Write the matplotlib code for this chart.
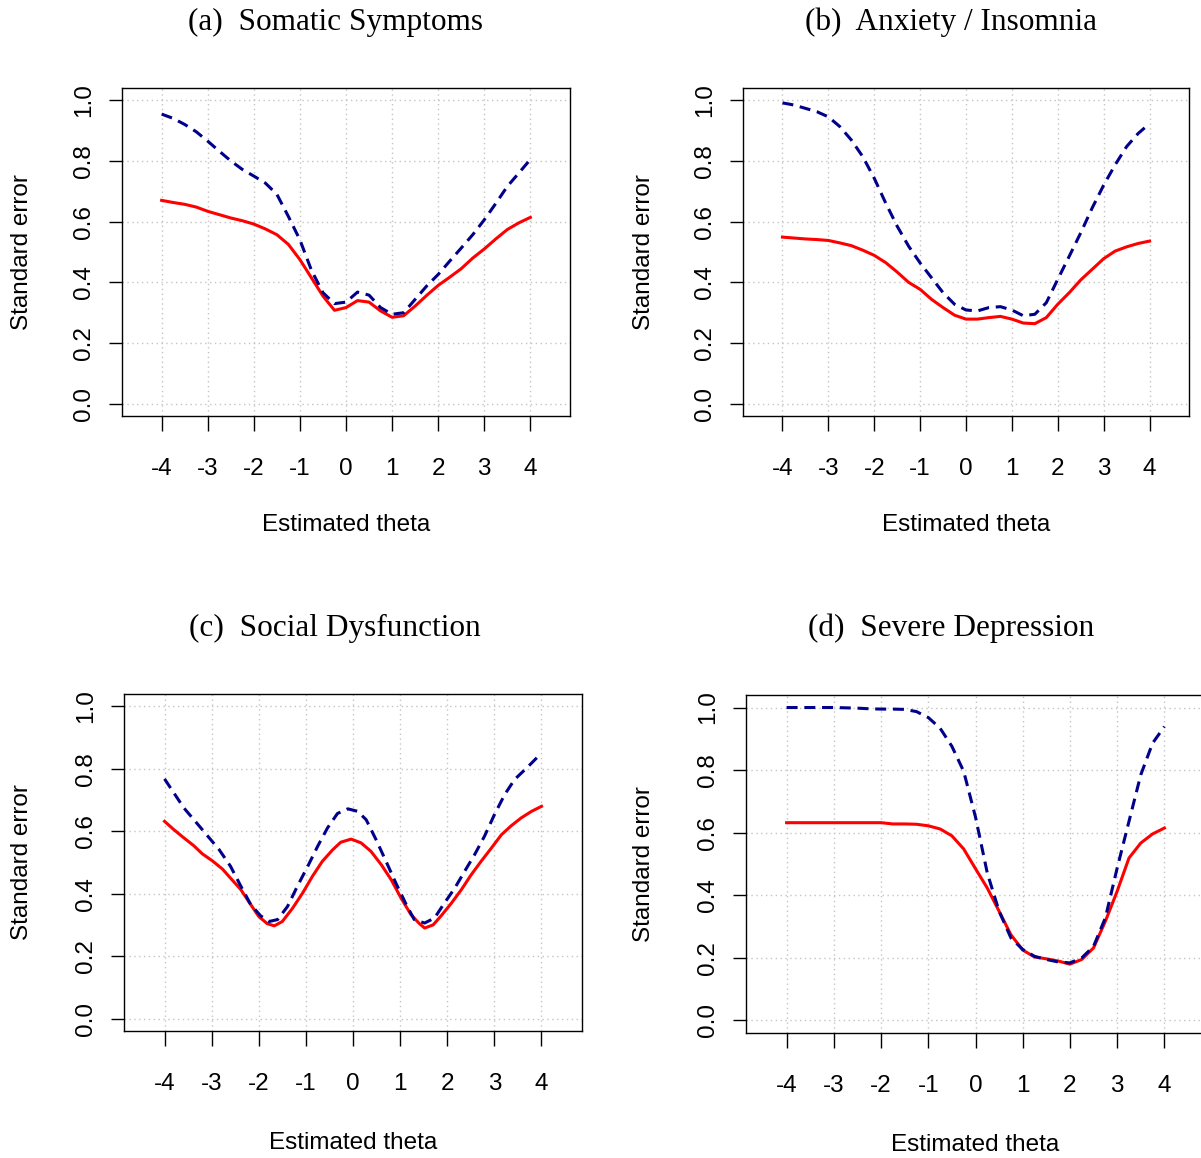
import numpy as np
import matplotlib
matplotlib.use("Agg")
import matplotlib.pyplot as plt

matplotlib.rcParams["font.family"] = "Liberation Sans"
matplotlib.rcParams["axes.unicode_minus"] = False

# ---- data ----
grid_q = np.arange(-4, 4.01, 0.25)

# (a) Somatic Symptoms
a_dash = [0.954, 0.94, 0.92, 0.896, 0.865, 0.832, 0.80, 0.772, 0.75, 0.727, 0.69,
          0.617, 0.54, 0.44, 0.366, 0.33, 0.335, 0.368, 0.358, 0.317, 0.295, 0.30,
          0.344, 0.388, 0.426, 0.47, 0.513, 0.557, 0.606, 0.66, 0.716, 0.76, 0.805]
a_solid = [0.67, 0.663, 0.657, 0.648, 0.634, 0.623, 0.612, 0.603, 0.592, 0.576, 0.557,
           0.525, 0.475, 0.415, 0.355, 0.308, 0.317, 0.34, 0.335, 0.306, 0.285, 0.29,
           0.322, 0.357, 0.39, 0.417, 0.445, 0.48, 0.51, 0.543, 0.574, 0.596, 0.614]

# (b) Anxiety / Insomnia
b_dash = [0.991, 0.984, 0.973, 0.962, 0.945, 0.913, 0.869, 0.814, 0.743, 0.661, 0.585,
          0.519, 0.464, 0.415, 0.366, 0.328, 0.309, 0.306, 0.317, 0.32, 0.309, 0.29,
          0.295, 0.333, 0.41, 0.486, 0.563, 0.645, 0.72, 0.787, 0.847, 0.89, 0.923]
b_solid = [0.549, 0.546, 0.543, 0.541, 0.538, 0.53, 0.521, 0.506, 0.489, 0.465, 0.434,
           0.40, 0.377, 0.344, 0.317, 0.292, 0.279, 0.279, 0.284, 0.288, 0.279, 0.266,
           0.264, 0.284, 0.328, 0.366, 0.408, 0.443, 0.478, 0.503, 0.517, 0.528, 0.536]

# (c) Social Dysfunction
c_dash_x = [-4, -3.59, -3.23, -2.84, -2.6, -2.38, -2.17, -1.96, -1.78, -1.6, -1.39, -1.18,
            -0.96, -0.75, -0.54, -0.33, -0.11, 0.1, 0.28, 0.49, 0.7, 0.91, 1.13, 1.3,
            1.52, 1.73, 1.94, 2.16, 2.37, 2.58, 2.79, 3.0, 3.22, 3.43, 3.72, 3.93, 4.0]
c_dash = [0.768, 0.675, 0.611, 0.541, 0.488, 0.424, 0.365, 0.329, 0.311, 0.317, 0.359,
          0.424, 0.488, 0.552, 0.611, 0.657, 0.672, 0.664, 0.637, 0.573, 0.504, 0.434,
          0.365, 0.317, 0.306, 0.322, 0.37, 0.418, 0.472, 0.525, 0.584, 0.653, 0.718,
          0.766, 0.808, 0.84, 0.851]
c_solid_x = [-4, -3.8, -3.59, -3.38, -3.2, -2.99, -2.77, -2.6, -2.38, -2.17, -2.0, -1.82,
             -1.67, -1.5, -1.28, -1.07, -0.86, -0.65, -0.43, -0.26, -0.04, 0.17, 0.38,
             0.6, 0.81, 1.02, 1.23, 1.41, 1.52, 1.7, 1.87, 2.09, 2.3, 2.51, 2.72, 2.94,
             3.15, 3.36, 3.57, 3.79, 4.0]
c_solid = [0.632, 0.605, 0.579, 0.554, 0.528, 0.506, 0.479, 0.45, 0.413, 0.365, 0.327,
           0.304, 0.297, 0.311, 0.354, 0.402, 0.456, 0.504, 0.541, 0.565, 0.575, 0.563,
           0.536, 0.493, 0.445, 0.386, 0.333, 0.304, 0.29, 0.3, 0.329, 0.37, 0.413,
           0.461, 0.504, 0.547, 0.589, 0.618, 0.643, 0.664, 0.68]

# (d) Severe Depression
d_dash = [1.0, 1.0, 1.0, 1.0, 1.0, 0.999, 0.998, 0.996, 0.995, 0.995, 0.994, 0.987,
          0.968, 0.934, 0.876, 0.796, 0.65, 0.471, 0.349, 0.264, 0.227, 0.205, 0.195,
          0.187, 0.184, 0.2, 0.237, 0.328, 0.487, 0.636, 0.785, 0.886, 0.939]
d_solid = [0.632, 0.632, 0.632, 0.632, 0.632, 0.632, 0.632, 0.632, 0.632, 0.628, 0.628,
           0.627, 0.622, 0.612, 0.59, 0.548, 0.485, 0.423, 0.349, 0.274, 0.225, 0.203,
           0.197, 0.19, 0.18, 0.195, 0.232, 0.317, 0.413, 0.519, 0.567, 0.596, 0.615]

titles = ["(a)  Somatic Symptoms", "(b)  Anxiety / Insomnia",
          "(c)  Social Dysfunction", "(d)  Severe Depression"]
x_ticks = [-4, -3, -2, -1, 0, 1, 2, 3, 4]
y_ticks = [0.0, 0.2, 0.4, 0.6, 0.8, 1.0]

panels = [
    (grid_q, a_dash, grid_q, a_solid),
    (grid_q, b_dash, grid_q, b_solid),
    (c_dash_x, c_dash, c_solid_x, c_solid),
    (grid_q, d_dash, grid_q, d_solid),
]

W, H = 1201, 1158
fig = plt.figure(figsize=(W / 100, H / 100), dpi=100)

# axes boxes in pixels: left, top, width, height
boxes = [(122, 88, 448, 328), (743, 88, 446, 328),
         (124, 694, 458, 337), (746, 695, 459, 338)]
title_pos = [(335, 22), (951, 22), (335, 628), (951, 628)]

for i, (xd, yd, xs, ys) in enumerate(panels):
    l, t, w, h = boxes[i]
    ax = fig.add_axes([l / W, 1 - (t + h) / H, w / W, h / H])
    ax.plot(xs, ys, color="red", lw=2.2, solid_joinstyle="round")
    ax.plot(xd, yd, color="#00008B", lw=2.2, dashes=(3.6, 2.2))
    ax.set_xlim(-4.86, 4.86)
    ax.set_ylim(-0.04, 1.04)
    ax.set_xticks(x_ticks)
    ax.set_xticklabels([str(v) for v in x_ticks])
    ax.set_yticks(y_ticks)
    ax.set_yticklabels(["%.1f" % v for v in y_ticks])
    ax.grid(True, color="#c4c4c4", linestyle=(0, (1, 2.5)), lw=1.0)
    ax.set_axisbelow(True)
    for s in ax.spines.values():
        s.set_linewidth(1.0)
    ax.tick_params(axis="x", length=11, width=1, pad=19, labelsize=17.5)
    ax.tick_params(axis="y", length=9.6, width=1, pad=9.5, labelsize=17.5,
                   labelrotation=90)
    plt.setp(ax.get_yticklabels(), va="center")
    ax.set_xlabel("Estimated theta", size=17.5)
    ax.set_ylabel("Standard error", size=17.5)
    ax.xaxis.label.set_va("center")
    ax.yaxis.label.set_va("center")
    ax.xaxis.set_label_coords(0.5, -0.332)
    ax.yaxis.set_label_coords(-0.223, 0.5)
    tx, ty = title_pos[i]
    fig.text(tx / W, 1 - ty / H, titles[i], ha="center", va="center",
             family="Liberation Serif", size=22.5)

fig.savefig("out.png", dpi=100)
